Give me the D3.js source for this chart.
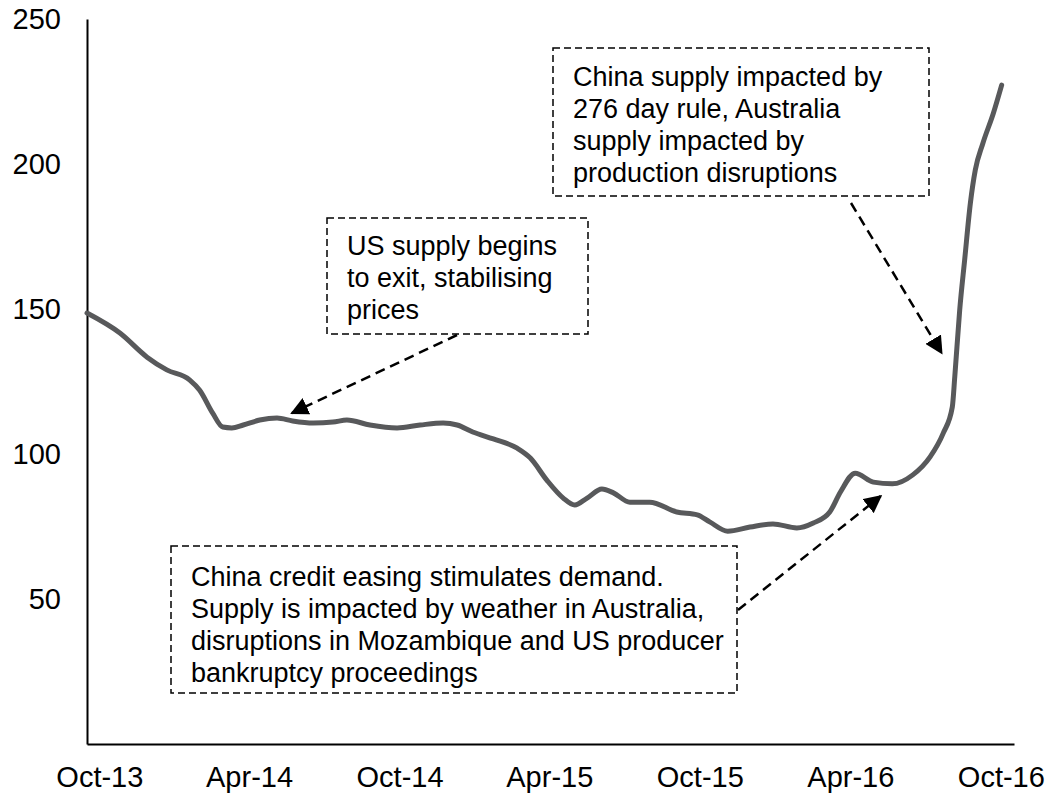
<!DOCTYPE html>
<html>
<head>
<meta charset="utf-8">
<script src="https://cdnjs.cloudflare.com/ajax/libs/d3/7.8.5/d3.min.js"></script>
<style>
body { margin: 0; background: #fff; }
text { font-family: "Liberation Sans", Arial, sans-serif; fill: #000; }
</style>
</head>
<body>
<div id="chart"></div>
<script>
// price index
var dates = [
    "2013-10-01", "2013-11-10", "2013-12-13", "2014-01-06", "2014-02-03", "2014-02-15",
    "2014-03-03", "2014-03-15", "2014-03-26", "2014-04-09", "2014-04-29", "2014-05-20",
    "2014-06-08", "2014-07-03", "2014-07-27", "2014-08-13", "2014-09-10", "2014-10-13",
    "2014-11-10", "2014-12-08", "2014-12-25", "2015-01-13", "2015-02-07", "2015-03-08",
    "2015-03-24", "2015-04-13", "2015-05-03", "2015-05-17", "2015-06-01", "2015-06-19",
    "2015-07-03", "2015-07-23", "2015-08-16", "2015-09-18", "2015-10-13", "2015-10-28",
    "2015-11-19", "2015-12-16", "2016-01-13", "2016-02-11", "2016-03-02", "2016-03-22",
    "2016-04-04", "2016-04-22", "2016-05-14", "2016-06-06", "2016-07-01", "2016-07-22",
    "2016-08-07", "2016-08-18", "2016-08-21", "2016-08-27", "2016-09-02", "2016-09-09",
    "2016-09-15", "2016-09-24", "2016-10-07", "2016-10-17"
]
var prices = [
    148.6, 141.7, 133.4, 129, 125.5, 122,
    114, 109.3, 109, 110, 111.7, 112.4,
    111.4, 110.7, 111, 111.7, 110, 109,
    110, 110.7, 110, 107.6, 105.2, 102,
    98.6, 91, 84.8, 82.4, 84.8, 87.9,
    86.6, 83.4, 83.4, 80, 79, 76.6,
    73.4, 74.8, 75.9, 74.5, 76.2, 80,
    86.9, 93.4, 90.3, 89.7, 92.8, 99,
    107.2, 116.2, 126.6, 149.7, 166.9, 186.6,
    198, 207, 217.6, 227.2
]

var tickDates = ["2013-10-16", "2014-04-16", "2014-10-16", "2015-04-16", "2015-10-16", "2016-04-16", "2016-10-16"]
var tickLabels = ["Oct-13", "Apr-14", "Oct-14", "Apr-15", "Oct-15", "Apr-16", "Oct-16"]
var yTicks = [50, 100, 150, 200, 250]

var noteTop = ["China supply impacted by", "276 day rule, Australia", "supply impacted by", "production disruptions"]
var noteMid = ["US supply begins", "to exit, stabilising", "prices"]
var noteBottom = [
    "China credit easing stimulates demand.",
    "Supply is impacted by weather in Australia,",
    "disruptions in Mozambique and US producer",
    "bankruptcy proceedings"
]

// where each arrow points on the line
var arrowDates = ["2014-06-07", "2016-05-23", "2016-08-05"]
var arrowValues = [114.1, 85.5, 134.8]

var parse = d3.timeParse("%Y-%m-%d")

function create_vis() {
    var svg = d3.select("#chart")
        .append("svg")
        .attr("width", 1048)
        .attr("height", 796)

    var defs = svg.append("defs")
    defs.append("marker")
        .attr("id", "head")
        .attr("viewBox", "0 0 10 10")
        .attr("refX", 9)
        .attr("refY", 5)
        .attr("markerUnits", "userSpaceOnUse")
        .attr("markerWidth", 18)
        .attr("markerHeight", 18)
        .attr("orient", "auto")
        .append("path")
        .attr("d", "M0,0 L10,5 L0,10 Z")
        .attr("fill", "#000")

    return svg
}

function draw_axes(svg, x, y) {
    var xAxis = d3.axisBottom(x)
        .tickValues(tickDates.map(parse))
        .tickFormat((d, i) => tickLabels[i])
        .tickSize(0)
        .tickPadding(22)

    var gx = svg.append("g")
        .attr("transform", "translate(0," + y(0) + ")")
        .call(xAxis)
    gx.select(".domain").attr("stroke", "#000").attr("stroke-width", 2)
    gx.selectAll("text").attr("font-size", 29)

    var yAxis = d3.axisLeft(y)
        .tickValues(yTicks)
        .tickSize(0)
        .tickPadding(26)

    var gy = svg.append("g")
        .attr("transform", "translate(" + x.range()[0] + ",0)")
        .call(yAxis)
    gy.select(".domain").attr("stroke", "#000").attr("stroke-width", 2)
    gy.selectAll("text").attr("font-size", 29)
}

function draw_line(svg, x, y) {
    var points = dates.map((d, i) => ({date: parse(d), value: prices[i]}))

    var line = d3.line()
        .x(d => x(d.date))
        .y(d => y(d.value))
        .curve(d3.curveMonotoneX)

    svg.append("path")
        .datum(points)
        .attr("d", line)
        .attr("fill", "none")
        .attr("stroke", "#58595b")
        .attr("stroke-width", 5)
        .attr("stroke-linecap", "round")
}

function draw_note(svg, lines, box, firstBaseline) {
    svg.append("rect")
        .attr("x", box[0])
        .attr("y", box[1])
        .attr("width", box[2])
        .attr("height", box[3])
        .attr("fill", "#fff")
        .attr("stroke", "#000")
        .attr("stroke-width", 1.5)
        .attr("stroke-dasharray", "7,4")

    svg.append("g")
        .selectAll("text")
        .data(lines)
        .enter()
        .append("text")
        .attr("x", box[0] + 20)
        .attr("y", (d, i) => firstBaseline + i * 32)
        .attr("font-size", 27)
        .text(d => d)
}

function draw_arrow(svg, x, y, from, i) {
    svg.append("line")
        .attr("x1", from[0])
        .attr("y1", from[1])
        .attr("x2", x(parse(arrowDates[i])))
        .attr("y2", y(arrowValues[i]))
        .attr("stroke", "#000")
        .attr("stroke-width", 2.5)
        .attr("stroke-dasharray", "10,6")
        .attr("marker-end", "url(#head)")
}

function init_chart() {
    var svg = create_vis()

    var x = d3.scaleTime()
        .domain([parse("2013-10-01"), parse("2016-11-01")])
        .range([87, 1014])

    var y = d3.scaleLinear()
        .domain([0, 250])
        .range([744, 19])

    draw_axes(svg, x, y)
    draw_line(svg, x, y)

    draw_note(svg, noteTop, [553, 48, 376, 148], 86)
    draw_note(svg, noteMid, [327, 218, 261, 116], 255)
    draw_note(svg, noteBottom, [171, 546, 566, 147], 586)

    draw_arrow(svg, x, y, [457, 335], 0)
    draw_arrow(svg, x, y, [738, 610], 1)
    draw_arrow(svg, x, y, [851, 203], 2)
}

init_chart()
</script>
</body>
</html>
